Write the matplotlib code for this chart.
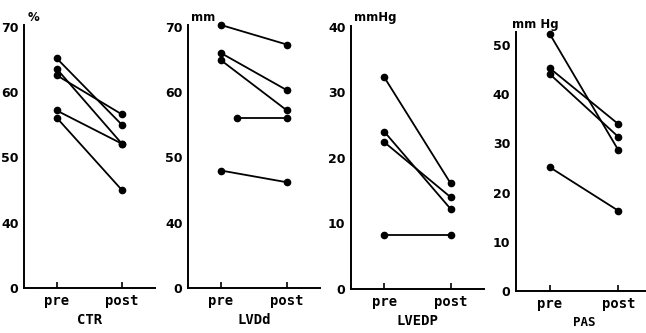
import numpy as np
import matplotlib.pyplot as plt

# values, one list per panel (pre -> post)
ctr_pre = [65.2, 63.6, 62.6, 57.2, 56.1]
ctr_post = [55.0, 52.1, 56.6, 52.1, 45.0]

lvdd_pre = [70.3, 66.0, 64.9, 56.0, 48.0]
lvdd_post = [67.3, 60.3, 57.2, 56.0, 46.2]
lvdd_pre_x = [0, 0, 0, 0.24, 0]

lvedp_pre = [32.3, 24.0, 22.4, 8.3]
lvedp_post = [16.1, 12.2, 14.0, 8.3]

pas_pre = [52.1, 45.2, 44.0, 25.1]
pas_post = [28.6, 33.9, 31.3, 16.3]

phases = ['pre', 'post']
broken_ticks = [0, 40, 50, 60, 70]

NUM_FONT = ['Liberation Sans Narrow', 'DejaVu Sans']
TXT_FONT = ['DejaVu Sans Mono']


def fwd(v):
    v = np.asarray(v, dtype=float)
    return np.where(v < 40, v / 4, v - 30)


def inv(y):
    y = np.asarray(y, dtype=float)
    return np.where(y < 10, y * 4, y + 30)


def style_axes(ax, xlabel, unit, unit_x):
    for side in ['top', 'right']:
        ax.spines[side].set_visible(False)
    for side in ['left', 'bottom']:
        ax.spines[side].set_linewidth(1.4)
    ax.set_xlim(-0.5, 1.5)
    ax.set_xticks([0, 1], labels=phases, fontfamily=TXT_FONT,
                  fontweight='bold', fontsize=10)
    ax.tick_params(axis='x', direction='in', length=4, width=1.2, pad=4)
    ax.tick_params(axis='y', length=0, pad=4)
    for lab in ax.get_yticklabels():
        lab.set_fontfamily(NUM_FONT)
        lab.set_fontweight('bold')
        lab.set_fontsize(9)
    ax.set_xlabel(xlabel, fontfamily=TXT_FONT, fontweight='bold',
                  fontsize=10, labelpad=4)
    ax.text(unit_x, 1.005, unit, transform=ax.transAxes, ha='left',
            va='bottom', fontweight='bold', fontsize=8.5)


def draw_pairs(ax, pre, post, pre_x=None):
    if pre_x is None:
        pre_x = [0] * len(pre)
    for x0, a, b in zip(pre_x, pre, post):
        ax.plot([x0, 1], [a, b], color='black', lw=1.3, marker='o',
                ms=4.5, clip_on=False)


def main():
    fig = plt.figure(figsize=(6.46, 3.33), dpi=100)
    W, H = 646, 333

    def add(left, bottom, width, height):
        return fig.add_axes([left / W, bottom / H, width / W, height / H])

    ax1 = add(24.0, 45, 130.6, 263)
    ax1.set_yscale('function', functions=(fwd, inv))
    draw_pairs(ax1, ctr_pre, ctr_post)
    ax1.set_ylim(0, 70.3)
    ax1.set_yticks(broken_ticks)
    ax1.minorticks_off()
    style_axes(ax1, 'CTR', '%', 0.03)

    ax2 = add(188.0, 45, 132.0, 263)
    ax2.set_yscale('function', functions=(fwd, inv))
    draw_pairs(ax2, lvdd_pre, lvdd_post, lvdd_pre_x)
    ax2.set_ylim(0, 70.3)
    ax2.set_yticks(broken_ticks)
    ax2.minorticks_off()
    style_axes(ax2, 'LVDd', 'mm', 0.02)

    ax3 = add(351.1, 44, 132.8, 263.5)
    draw_pairs(ax3, lvedp_pre, lvedp_post)
    ax3.set_ylim(0, 40.2)
    ax3.set_yticks([0, 10, 20, 30, 40])
    style_axes(ax3, 'LVEDP', 'mmHg', 0.02)

    ax4 = add(515.9, 42, 136.6, 259)
    draw_pairs(ax4, pas_pre, pas_post)
    ax4.set_ylim(0, 52.6)
    ax4.set_yticks([0, 10, 20, 30, 40, 50])
    style_axes(ax4, 'PAS', 'mm Hg', -0.03)
    ax4.xaxis.label.set_fontsize(9)

    fig.savefig('out.png', dpi=100)


if __name__ == '__main__':
    main()
